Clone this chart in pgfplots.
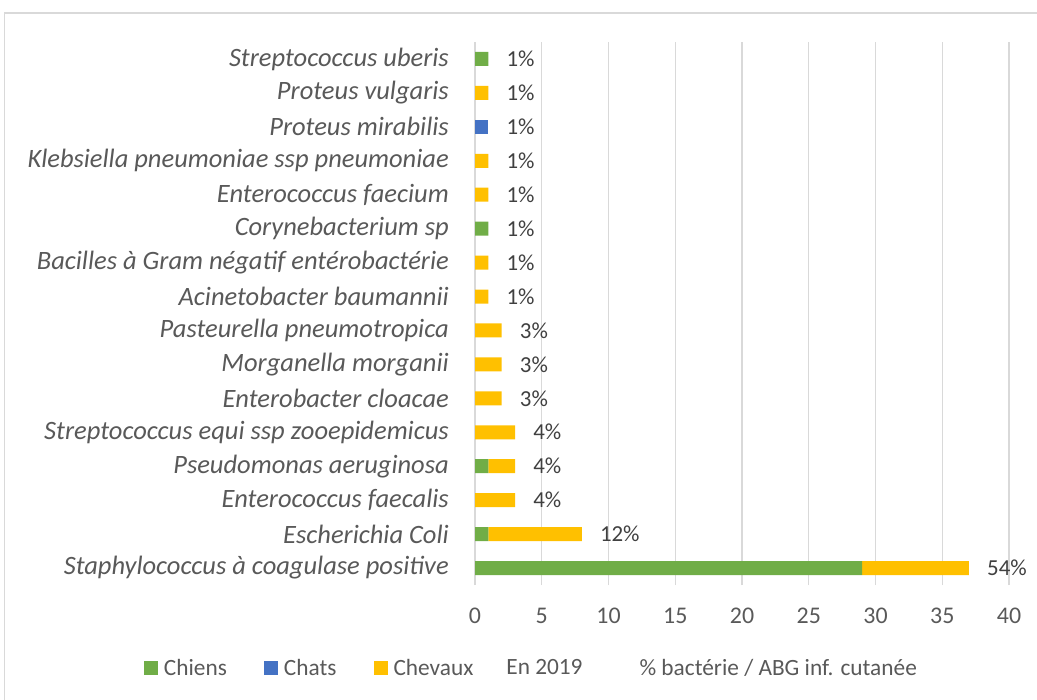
\documentclass[border=0pt]{standalone}
\usepackage{pgfplots}
\pgfplotsset{compat=1.18}
\usepackage{pgfplotstable}
\usepackage{fontspec}
\setmainfont{Carlito}
\definecolor{cGreen}{HTML}{70AD47}
\definecolor{cBlue}{HTML}{4472C4}
\definecolor{cYellow}{HTML}{FFC000}
\definecolor{cGrid}{HTML}{D9D9D9}
\definecolor{cText}{HTML}{595959}
\definecolor{cLab}{HTML}{404040}
\definecolor{cFrame}{HTML}{D9D9D9}
\pgfplotstableread{
y chiens chats chevaux total lab
0 29 0 8 37 54
1 1 0 7 8 12
2 0 0 3 3 4
3 1 0 2 3 4
4 0 0 3 3 4
5 0 0 2 2 3
6 0 0 2 2 3
7 0 0 2 2 3
8 0 0 1 1 1
9 0 0 1 1 1
10 1 0 0 1 1
11 0 0 1 1 1
12 0 0 1 1 1
13 0 1 0 1 1
14 0 0 1 1 1
15 1 0 0 1 1
}\data
\begin{document}
\begin{tikzpicture}
\useasboundingbox (0,0) rectangle (1037bp,700bp);
\draw[cFrame, line width=1.2bp] (4.5bp,-20bp) -- (4.5bp,687bp) -- (1060bp,687bp);
\begin{axis}[
  at={(475bp,115bp)}, anchor=south west,
  scale only axis, width=534bp, height=543bp,
  xbar stacked, bar width=14bp,
  xmin=0, xmax=40, ymin=-0.5, ymax=15.5,
  xtick={0,5,...,40},
  ytick={0,...,15},
  yticklabels={
    Staphylococcus à coagulase positive,
    Escherichia Coli,
    Enterococcus faecalis,
    Pseudomonas aeruginosa,
    Streptococcus equi ssp zooepidemicus,
    Enterobacter cloacae,
    Morganella morganii,
    Pasteurella pneumotropica,
    Acinetobacter baumannii,
    Bacilles à Gram négatif entérobactérie,
    Corynebacterium sp,
    Enterococcus faecium,
    Klebsiella pneumoniae ssp pneumoniae,
    Proteus mirabilis,
    Proteus vulgaris,
    Streptococcus uberis},
  /pgf/number format/assume math mode=true,
  yticklabel style={font=\fontsize{26.6}{30}\selectfont\itshape, text=cText, inner sep=0pt, anchor=east, xshift=-26bp},
  xticklabel style={font=\fontsize{24}{28}\selectfont, text=cText, inner sep=0pt, anchor=north, yshift=-23bp},
  major tick length=0pt,
  axis line style={draw=none},
  xmajorgrids, grid style={cGrid, line width=1.3bp},
  legend columns=5,
  legend image code/.code={\fill[#1] (0bp,-7bp) rectangle (14bp,7bp);},
  legend style={draw=none, fill=none, inner sep=0pt, outer sep=0pt,
    at={(-0.6199,-0.1529)}, anchor=west,
    font=\fontsize{23.4}{27}\selectfont, text=cText,
    nodes={inner sep=0pt},
    /tikz/every odd column/.append style={column sep=6bp},
    /tikz/every even column/.append style={column sep=37bp}},
]
\addplot[draw=none, fill=cGreen] table[x=chiens, y=y] {\data};
\addlegendentry{Chiens}
\addplot[draw=none, fill=cBlue] table[x=chats, y=y] {\data};
\addlegendentry{Chats}
\addplot[draw=none, fill=cYellow] table[x=chevaux, y=y] {\data};
\addlegendentry{Chevaux\hspace*{-24bp}}
\addlegendimage{legend image code/.code={\path[draw=none, fill=none] (0bp,-7bp) rectangle (14bp,7bp);}}
\addlegendentry{En 2019}
\addlegendimage{legend image code/.code={\path[draw=none, fill=none] (0bp,-7bp) rectangle (14bp,7bp);}}
\addlegendentry{\% bactérie / ABG inf. cutanée}
\end{axis}
\begin{axis}[
  at={(475bp,115bp)}, anchor=south west,
  scale only axis, width=534bp, height=543bp,
  xmin=0, xmax=40, ymin=-0.5, ymax=15.5,
  hide axis, clip=false,
]
\addplot[only marks, mark=none, draw=none,
  point meta=explicit symbolic,
  nodes near coords={\pgfplotspointmeta\%},
  every node near coord/.append style={font=\fontsize{23}{27}\selectfont, text=cLab, inner sep=0pt, anchor=west, xshift=18bp}]
  table[x=total, y=y, meta=lab] {\data};
\end{axis}
\end{tikzpicture}
\end{document}
